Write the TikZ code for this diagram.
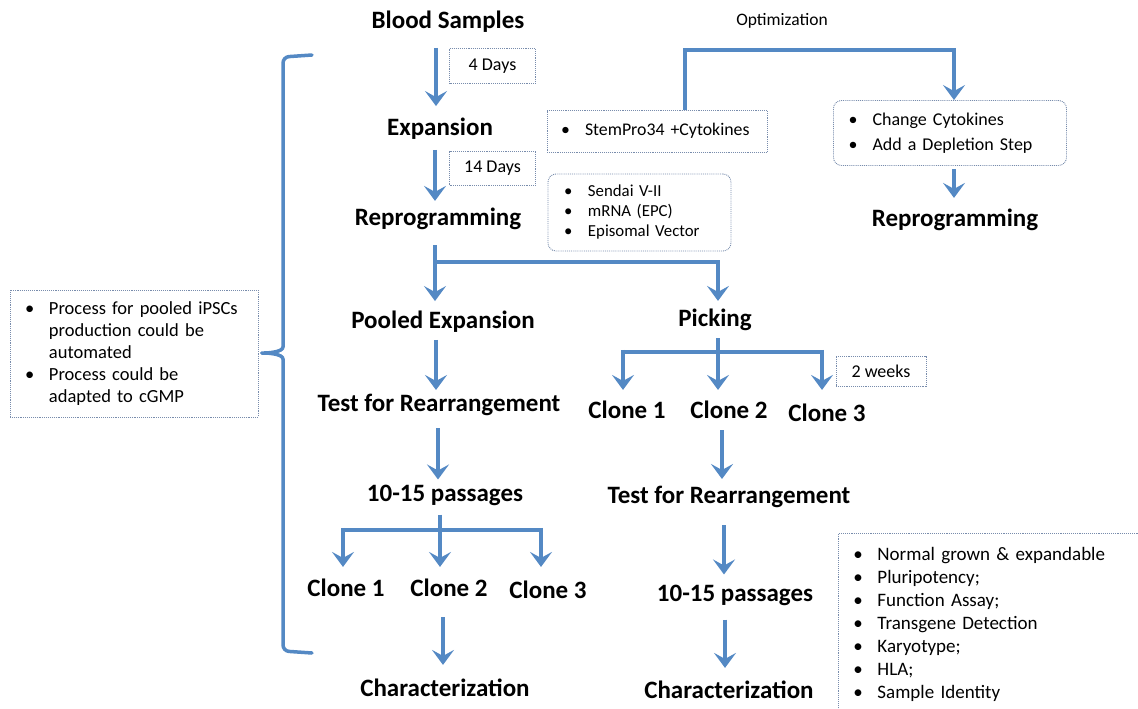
\documentclass[tikz,border=0pt]{standalone}
\usepackage{fontspec}
\setmainfont{Carlito}
\usetikzlibrary{arrows.meta}
\definecolor{ablue}{RGB}{84,137,196}
\definecolor{dbox}{RGB}{120,140,172}
\tikzset{
  ttl/.style={font=\fontsize{25}{29}\selectfont\bfseries, inner sep=0pt},
  arr/.style={draw=ablue, line width=4.5pt, -{Stealth[length=15pt,width=22pt,inset=6pt]}},
  ln/.style={draw=ablue, line width=4.5pt},
  brk/.style={draw=ablue, line width=3.5pt, line cap=round, line join=round},
  dbx/.style={draw=dbox, densely dotted, line width=0.9pt},
  small/.style={font=\fontsize{18}{21}\selectfont},
}
\newcommand{\bl}[1]{\mbox{\makebox[24pt][l]{•}#1}}
\newcommand{\ind}{\hspace*{24pt}}
\begin{document}
\begin{tikzpicture}[x=1pt,y=-1pt]
\useasboundingbox (0,0) rectangle (1138,709);
% titles
\node[ttl] (bs) at (448,22) {Blood Samples};
\node[ttl] (exp) at (440,129) {Expansion};
\node[ttl] (rep) at (438,219) {Reprogramming};
\node[ttl] (pool) at (443,322) {Pooled Expansion};
\node[ttl] (test1) at (439,405) {Test for Rearrangement};
\node[ttl] (pass1) at (445,495) {10-15 passages};
\node[ttl] (c11) at (346,588) {Clone 1};
\node[ttl] (c12) at (449,588) {Clone 2};
\node[ttl] (c13) at (548,590) {Clone 3};
\node[ttl] (char1) at (445,688) {Characterization};
\node[ttl] (pick) at (715,320) {Picking};
\node[ttl] (c21) at (627,410) {Clone 1};
\node[ttl] (c22) at (729,410) {Clone 2};
\node[ttl] (c23) at (827,413) {Clone 3};
\node[ttl] (test2) at (729,497) {Test for Rearrangement};
\node[ttl] (pass2) at (735,595) {10-15 passages};
\node[ttl] (char2) at (729,690) {Characterization};
\node[ttl] (rep2) at (955,220) {Reprogramming};
\node[font=\fontsize{17.5}{21}\selectfont, inner sep=0pt] (opt) at (782,21) {Optimization};
% boxes
\node[dbx, small, minimum width=86pt, minimum height=35pt, inner sep=0pt] (d4) at (492.5,66) {4 Days};
\node[dbx, small, minimum width=86pt, minimum height=34pt, inner sep=0pt] (d14) at (492.5,168) {14 Days};
\node[dbx, small, minimum width=90pt, minimum height=30pt, inner sep=0pt] (wk) at (881,371) {2 weeks};
\node[dbx, font=\fontsize{17.8}{21}\selectfont, minimum height=42pt, inner xsep=14pt, text width=192pt, align=left] (stem) at (657,131) {\bl{StemPro34 +Cytokines}};
\node[dbx, rounded corners=8pt, font=\fontsize{16.8}{20}\selectfont, minimum height=77pt, inner xsep=16pt, text width=151pt, align=left] (sendai) at (639.5,212.5) {\bl{Sendai V-II}\\ \bl{mRNA (EPC)}\\ \bl{Episomal Vector}};
\node[dbx, rounded corners=8pt, font=\fontsize{18}{24.5}\selectfont, minimum height=65pt, inner xsep=15pt, text width=203pt, align=left] (chg) at (950,133) {\bl{Change Cytokines}\\ \bl{Add a Depletion Step}};
\node[dbx, font=\fontsize{18.5}{22}\selectfont, minimum height=127pt, inner xsep=15pt, text width=218pt, align=left] (left) at (134,353.5) {\bl{Process for pooled iPSCs}\\ \ind production could be\\ \ind automated\\ \bl{Process could be}\\ \ind adapted to cGMP};
\node[dbx, font=\fontsize{19}{23}\selectfont, anchor=north west, inner xsep=15pt, inner ysep=14pt, text width=320pt, align=left] (right) at (838,533) {\bl{Normal grown \& expandable}\\ \bl{Pluripotency;}\\ \bl{Function Assay;}\\ \bl{Transgene Detection}\\ \bl{Karyotype;}\\ \bl{HLA;}\\ \bl{Sample Identity}\\ \mbox{}};
% main left column
\draw[arr, shorten <=15pt, shorten >=12pt] (bs.south -| 436,0) -- (exp.north -| 436,0);
\draw[arr, shorten <=10pt, shorten >=7pt] (exp.south -| 435,0) -- (rep.north -| 435,0);
\draw[arr, shorten <=15pt, shorten >=10pt] (rep.south -| 435,0) -- (pool.north -| 435,0);
\coordinate (sp1) at (435,262);
\draw[arr, shorten >=8pt] (sp1) -| (pick.north -| 718,0);
\draw[arr, shorten <=7pt, shorten >=4pt] (pool.south -| 436,0) -- (test1.north -| 436,0);
\draw[arr, shorten <=12pt, shorten >=5pt] (test1.south -| 438,0) -- (pass1.north -| 438,0);
\draw[arr, shorten <=9pt, shorten >=12pt] (pass1.south -| 440,0) -- (c12.north -| 440,0);
\coordinate (sp2) at (440,530);
\draw[ln] (sp2 -| 343,0) -- (sp2 -| 541,0);
\draw[arr, shorten <=-2.25pt, shorten >=12pt] (sp2 -| 343,0) -- (c11.north -| 343,0);
\draw[arr, shorten <=-2.25pt, shorten >=14pt] (sp2 -| 541,0) -- (c13.north -| 541,0);
\draw[arr, shorten <=20pt, shorten >=14pt] (c12.south -| 443,0) -- (char1.north -| 443,0);
% right column
\draw[arr, shorten <=7pt, shorten >=11pt] (pick.south -| 718,0) -- (c22.north -| 718,0);
\coordinate (sp3) at (718,352);
\draw[ln] (sp3 -| 623,0) -- (sp3 -| 822,0);
\draw[arr, shorten <=-2.25pt, shorten >=11pt] (sp3 -| 623,0) -- (c21.north -| 623,0);
\draw[arr, shorten <=-2.25pt, shorten >=14pt] (sp3 -| 822,0) -- (c23.north -| 822,0);
\draw[arr, shorten <=11pt, shorten >=7pt] (c22.south -| 722,0) -- (test2.north -| 722,0);
\draw[arr, shorten <=17pt, shorten >=10pt] (test2.south -| 724,0) -- (pass2.north -| 724,0);
\draw[arr, shorten <=14pt, shorten >=13pt] (pass2.south -| 725,0) -- (char2.north -| 725,0);
% optimization
\coordinate (o1) at (685,50);
\draw[arr] (stem.north -| o1) -- (o1) -- (o1 -| 954,0) -- (chg.north -| 954,0);
\draw[arr, shorten <=3pt, shorten >=11pt] (chg.south -| 954,0) -- (rep2.north -| 954,0);
% bracket
\draw[brk, rounded corners=6pt] (312,55) -- (283,57) -- (283,341) to[out=-90,in=0] (258,353) to[out=0,in=90] (283,365) -- (283,651) -- (312,653);
\end{tikzpicture}
\end{document}
